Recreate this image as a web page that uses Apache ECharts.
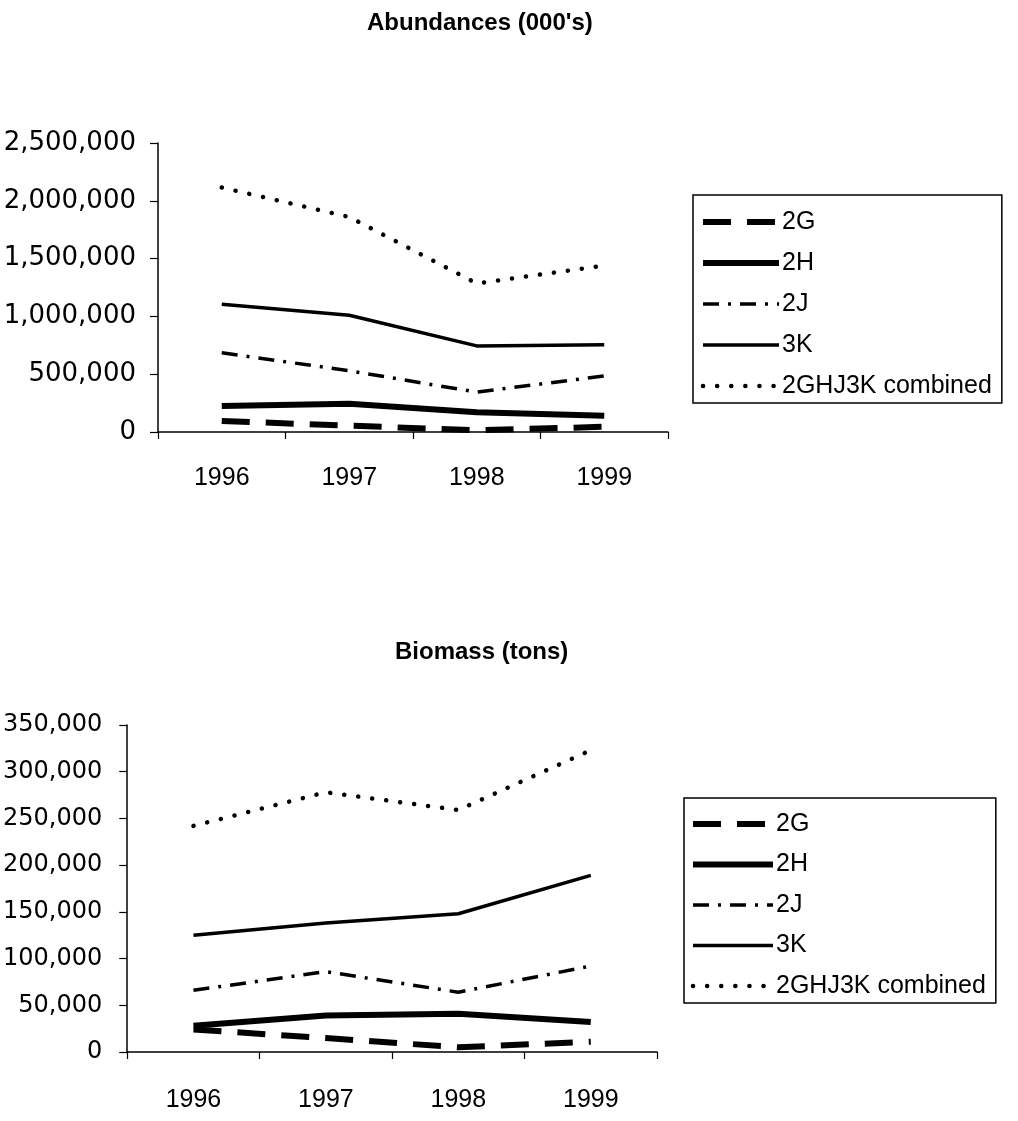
<!DOCTYPE html>
<html>
<head>
<meta charset="utf-8">
<title>Abundances and Biomass, 1996-1999</title>
<script src="https://cdn.jsdelivr.net/npm/echarts@6/dist/echarts.min.js"></script>
<style>
  html, body { margin: 0; padding: 0; background: #fff; }
  #chart { width: 1018px; height: 1121px; }
</style>
</head>
<body>
<div id="chart"></div>
<script>
// Survey years
const years = ['1996', '1997', '1998', '1999'];

// Abundances (000's) by division
const abund2G = [95000, 55000, 15000, 45000];
const abund2H = [225000, 245000, 170000, 140000];
const abund2J = [685000, 530000, 345000, 485000];
const abund3K = [1105000, 1010000, 745000, 755000];
const abundCombined = [2115000, 1860000, 1285000, 1440000];

// Biomass (tons) by division
const bio2G = [24000, 15000, 5000, 11000];
const bio2H = [28000, 39000, 41000, 32000];
const bio2J = [66000, 86000, 64000, 92000];
const bio3K = [125000, 138000, 148000, 189000];
const bioCombined = [242000, 278000, 259000, 323000];

const seriesNames = ['2G', '2H', '2J', '3K', '2GHJ3K combined'];

// Line look for each division (all black, told apart by stroke pattern)
const lineLook = {
  '2G': { width: 6, type: [28, 16], cap: 'butt' },
  '2H': { width: 6, type: 'solid', cap: 'butt' },
  '2J': { width: 3.5, type: [16, 9, 3, 9], cap: 'butt' },
  '3K': { width: 3.5, type: 'solid', cap: 'butt' },
  '2GHJ3K combined': { width: 4.5, type: [0.1, 14], cap: 'round' }
};

const abundData = [abund2G, abund2H, abund2J, abund3K, abundCombined];
const bioData = [bio2G, bio2H, bio2J, bio3K, bioCombined];

const fmt = v => Number(v).toLocaleString('en-US');
const SANS = 'Liberation Sans, Arial, sans-serif';
const WIDE = 'DejaVu Sans, sans-serif';

function makeSeries(data, idx) {
  return seriesNames.map((name, i) => ({
    name: name,
    type: 'line',
    xAxisIndex: idx,
    yAxisIndex: idx,
    symbol: 'none',
    legendIcon: 'none',
    silent: true,
    animation: false,
    data: data[i],
    color: '#000',
    lineStyle: {
      color: '#000',
      width: lineLook[name].width,
      type: lineLook[name].type,
      cap: lineLook[name].cap,
      join: 'round'
    }
  }));
}

function makeLegend(left, top, padding, itemWidth, itemGap) {
  return {
    orient: 'vertical',
    left: left,
    top: top,
    padding: padding,
    itemWidth: itemWidth,
    itemHeight: 26,
    itemGap: itemGap,
    borderColor: '#000',
    borderWidth: 1.5,
    selectedMode: false,
    data: seriesNames,
    itemStyle: { opacity: 0, borderWidth: 0 },
    lineStyle: { width: 'inherit', type: 'inherit', cap: 'inherit', opacity: 1 },
    textStyle: { fontFamily: SANS, fontSize: 25, color: '#000', lineHeight: 26, padding: [0, 0, 0, -2] }
  };
}

function xAxisFor(idx, margin) {
  return {
    type: 'category',
    gridIndex: idx,
    data: years,
    boundaryGap: true,
    axisLine: { lineStyle: { color: '#000', width: 1.5 } },
    axisTick: { show: true, inside: false, length: 7, lineStyle: { color: '#000', width: 1.2 } },
    axisLabel: { color: '#000', fontFamily: SANS, fontSize: 25, margin: margin }
  };
}

function yAxisFor(idx, max, interval, fontSize, margin) {
  return {
    type: 'value',
    gridIndex: idx,
    min: 0,
    max: max,
    interval: interval,
    splitLine: { show: false },
    axisLine: { show: true, lineStyle: { color: '#000', width: 1.5 } },
    axisTick: { show: true, inside: false, length: 8, lineStyle: { color: '#000', width: 1.2 } },
    axisLabel: { color: '#000', fontFamily: WIDE, fontSize: fontSize, margin: margin, formatter: fmt }
  };
}

const chart = echarts.init(document.getElementById('chart'), null, { renderer: 'canvas' });

chart.setOption({
  backgroundColor: '#fff',
  animation: false,
  title: [
    {
      text: "Abundances (000's)",
      left: 362,
      top: 6,
      textStyle: { fontFamily: SANS, fontWeight: 'bold', fontSize: 24, color: '#000' }
    },
    {
      text: 'Biomass (tons)',
      left: 390,
      top: 635,
      textStyle: { fontFamily: SANS, fontWeight: 'bold', fontSize: 24, color: '#000' }
    }
  ],
  legend: [
    makeLegend(693, 195, [14, 10, 4, 7], 76, 15),
    makeLegend(684, 798, [13, 10, 4, 6], 80, 14.5)
  ],
  grid: [
    { left: 158, top: 143, width: 510, height: 289 },
    { left: 127, top: 725, width: 530, height: 327 }
  ],
  xAxis: [xAxisFor(0, 34), xAxisFor(1, 36)],
  yAxis: [
    yAxisFor(0, 2500000, 500000, 26, 22),
    yAxisFor(1, 350000, 50000, 24, 25)
  ],
  series: makeSeries(abundData, 0).concat(makeSeries(bioData, 1))
});
</script>
</body>
</html>
